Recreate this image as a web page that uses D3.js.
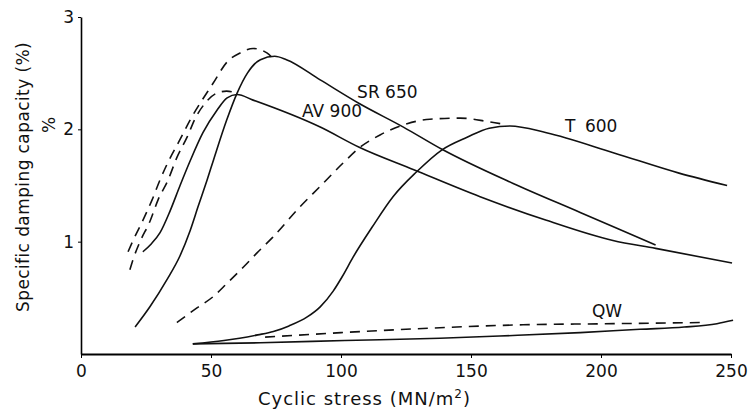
<!DOCTYPE html>
<html>
<head>
<meta charset="utf-8">
<script src="https://cdn.jsdelivr.net/npm/d3@7"></script>
<style>
  body { margin: 0; background: #fff; }
  text { font-family: "DejaVu Sans", sans-serif; fill: #111; }
</style>
</head>
<body>
<div id="chart"></div>
<script>
// values: [cyclic stress MN/m2, damping %]
var xTicks = [0, 50, 100, 150, 200, 250];
var yTicks = [1, 2, 3];

var sr650 = [[20.8,0.24],[26.5,0.42],[33,0.66],[38,0.87],[42,1.1],[45,1.31],[48.5,1.55],[51,1.73],[56,2.08],[60,2.32],[64,2.5],[69,2.62],[74.5,2.65],[79,2.62],[92,2.44],[107,2.23],[124,2.02],[139,1.82],[166,1.52],[192,1.26],[221,0.97]];
var sr650Dash = [[18.1,0.91],[20,1.01],[23.8,1.19],[27.3,1.37],[30.4,1.55],[33.1,1.69],[38.1,1.91],[41.9,2.08],[50.8,2.41],[56.2,2.6],[61.2,2.68],[66.2,2.72],[71.5,2.68],[73.5,2.64]];
var av900 = [[23.8,0.91],[27,0.98],[30.4,1.08],[34.2,1.27],[38.1,1.5],[42,1.72],[46.9,1.97],[52.3,2.17],[56.2,2.28],[60,2.31],[66.2,2.26],[92,2.02],[107,1.84],[128,1.64],[153.5,1.4],[179,1.19],[204.6,1.01],[221,0.94],[250.4,0.81]];
var av900Dash = [[18.8,0.75],[20,0.84],[22.7,1.0],[26.5,1.18],[29.6,1.37],[33.5,1.55],[36.9,1.75],[40.8,1.93],[44,2.1],[48,2.24],[52,2.32],[56,2.34],[60,2.32]];
var t600 = [[43,0.09],[55,0.12],[61,0.14],[68,0.17],[74,0.2],[80,0.25],[87,0.33],[92,0.42],[97,0.56],[100.5,0.69],[104.6,0.86],[112,1.13],[120,1.4],[129,1.62],[139,1.82],[148.5,1.93],[157,2.01],[165,2.03],[179,1.97],[205,1.79],[230,1.61],[248.5,1.5]];
var t600Dash = [[36.9,0.28],[44.6,0.41],[50.8,0.51],[56.2,0.63],[62.3,0.77],[67.7,0.9],[73.8,1.04],[84.2,1.31],[91.9,1.49],[100.8,1.7],[107.3,1.84],[115,1.95],[125.4,2.05],[134.2,2.09],[145.8,2.1],[156.2,2.07],[163.8,2.04]];
var qw = [[43,0.09],[69,0.1],[101.5,0.12],[138,0.14],[161,0.16],[192,0.19],[215,0.22],[232,0.24],[244.6,0.27],[250.8,0.3]];
var qwDash = [[70.8,0.15],[100,0.19],[134,0.23],[170,0.26],[205,0.27],[238,0.28]];

var width = 749, height = 412;

var svg = d3.select("#chart").append("svg")
    .attr("width", width).attr("height", height);

var x = d3.scaleLinear().domain([0, 250]).range([81, 731]);
var y = d3.scaleLinear().domain([0, 3]).range([354, 17]);

var line = d3.line()
    .x(function(d){ return x(d[0]); })
    .y(function(d){ return y(d[1]); })
    .curve(d3.curveMonotoneX);

// axes
var xAxis = svg.append("g").attr("transform", "translate(0,354)")
    .call(d3.axisBottom(x).tickValues(xTicks).tickFormat(d3.format("d"))
        .tickSize(4).tickSizeOuter(0).tickPadding(7));
xAxis.selectAll("text").attr("font-size", "17px").style("font-family", "DejaVu Sans");
xAxis.select(".domain").attr("stroke-width", 1.8);

var yAxis = svg.append("g").attr("transform", "translate(81,0)")
    .call(d3.axisLeft(y).tickValues(yTicks).tickFormat(d3.format("d"))
        .tickSize(3).tickSizeOuter(0).tickPadding(4));
yAxis.selectAll("text").attr("font-size", "17px").style("font-family", "DejaVu Sans");
yAxis.select(".domain").attr("stroke-width", 1.6);

// curves
var solid = [sr650, av900, t600, qw];
var dashed = [sr650Dash, av900Dash, t600Dash, qwDash];

svg.append("g").selectAll("path").data(solid).enter().append("path")
    .attr("d", line).attr("fill", "none")
    .attr("stroke", "#111").attr("stroke-width", 1.6);

svg.append("g").selectAll("path").data(dashed).enter().append("path")
    .attr("d", line).attr("fill", "none")
    .attr("stroke", "#111").attr("stroke-width", 1.6)
    .attr("stroke-dasharray", "10,7");

// curve labels
svg.append("text").attr("x", x(106.2)).attr("y", y(2.28)).attr("font-size", "17px").text("SR 650");
svg.append("text").attr("x", x(85)).attr("y", y(2.11)).attr("font-size", "17px").text("AV 900");
svg.append("text").attr("x", x(186.2)).attr("y", y(1.98)).attr("font-size", "17px")
    .style("word-spacing", "4px").text("T 600");
svg.append("text").attr("x", x(196.5)).attr("y", y(0.33)).attr("font-size", "17px").text("QW");

// axis titles
var xt = svg.append("text").attr("x", 364.5).attr("y", 405)
    .attr("text-anchor", "middle").attr("font-size", "18px")
    .style("letter-spacing", "1px");
xt.append("tspan").text("Cyclic stress (MN/m");
xt.append("tspan").attr("dy", -7).attr("font-size", "12px").text("2");
xt.append("tspan").attr("dy", 7).text(")");

svg.append("text").attr("transform", "translate(29,177) rotate(-90)")
    .attr("text-anchor", "middle").attr("font-size", "17px")
    .style("letter-spacing", "0.4px")
    .text("Specific damping capacity (%)");

svg.append("text").attr("transform", "translate(55,125) rotate(-90)")
    .attr("text-anchor", "middle").attr("font-size", "17px")
    .text("%");
</script>
</body>
</html>
